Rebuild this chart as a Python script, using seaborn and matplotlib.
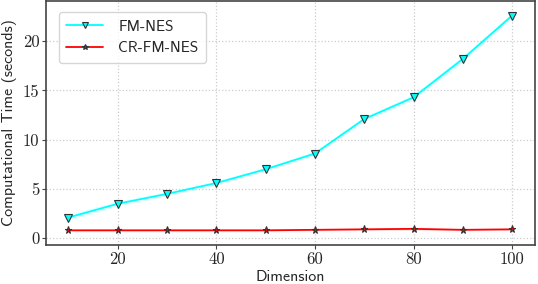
import numpy as np
import pandas as pd
import matplotlib
matplotlib.use("Agg")
import matplotlib.pyplot as plt
import seaborn as sns

# values
dims = [10, 20, 30, 40, 50, 60, 70, 80, 90, 100]
fm_nes = [2.1, 3.5, 4.5, 5.6, 7.0, 8.6, 12.1, 14.3, 18.2, 22.6]
fm_nes_sd = [0.35, 0.25, 0.2, 0.2, 0.2, 0.2, 0.25, 0.3, 0.35, 0.3]
cr_fm_nes = [0.8, 0.8, 0.8, 0.8, 0.8, 0.85, 0.9, 0.95, 0.85, 0.9]
cr_fm_nes_sd = [0.08, 0.08, 0.08, 0.08, 0.08, 0.1, 0.12, 0.15, 0.1, 0.1]

sns.set_style("whitegrid")
plt.rcParams["axes.unicode_minus"] = False

df = pd.DataFrame({"Dimension": dims * 2,
                   "Time": fm_nes + cr_fm_nes,
                   "Method": ["FM-NES"] * len(dims) + ["CR-FM-NES"] * len(dims)})

fig, ax = plt.subplots(figsize=(5.38, 2.84), dpi=100)
fig.subplots_adjust(left=0.086, right=0.994, top=0.997, bottom=0.137)

sns.lineplot(data=df, x="Dimension", y="Time", hue="Method", style="Method",
             palette={"FM-NES": "cyan", "CR-FM-NES": "red"},
             markers={"FM-NES": "v", "CR-FM-NES": "*"}, dashes=False,
             markersize=5.2, markeredgecolor="#333333", markeredgewidth=0.8,
             linewidth=1.3, ax=ax)

# shaded spread bands
x = np.array(dims)
for m, s, c in [(fm_nes, fm_nes_sd, "cyan"), (cr_fm_nes, cr_fm_nes_sd, "red")]:
    m, s = np.array(m), np.array(s)
    ax.fill_between(x, m - s, m + s, color=c, alpha=0.1, linewidth=0)

ax.set_ylim(-0.7, 24.1)
ax.set_xlim(5.5, 104.6)
ax.set_yticks([0, 5, 10, 15, 20])
ax.set_xticks([20, 40, 60, 80, 100])

ax.grid(True, linestyle=":", color="#cccccc", linewidth=0.9)
for sp in ax.spines.values():
    sp.set_color("#444444")
    sp.set_linewidth(1.2)
ax.tick_params(axis="both", direction="out", length=3, color="#444444",
               labelsize=12, pad=2, left=True, bottom=True)
for lab in ax.get_xticklabels() + ax.get_yticklabels():
    lab.set_fontfamily("cmr10")

ax.set_xlabel("Dimension", fontsize=11.5, fontfamily="cmss10", labelpad=2)
ax.set_ylabel("Computational Time (seconds)", fontsize=11.5,
              fontfamily="cmss10", labelpad=4)

leg = ax.legend(loc="upper left", frameon=True, fancybox=True,
                prop={"family": "cmss10", "size": 11},
                borderpad=0.5, handlelength=2.4, handletextpad=1.0,
                markerscale=0.8, bbox_to_anchor=(0.01, 0.985))
leg.get_frame().set_edgecolor("#cccccc")

fig.savefig("out.png", dpi=100)
